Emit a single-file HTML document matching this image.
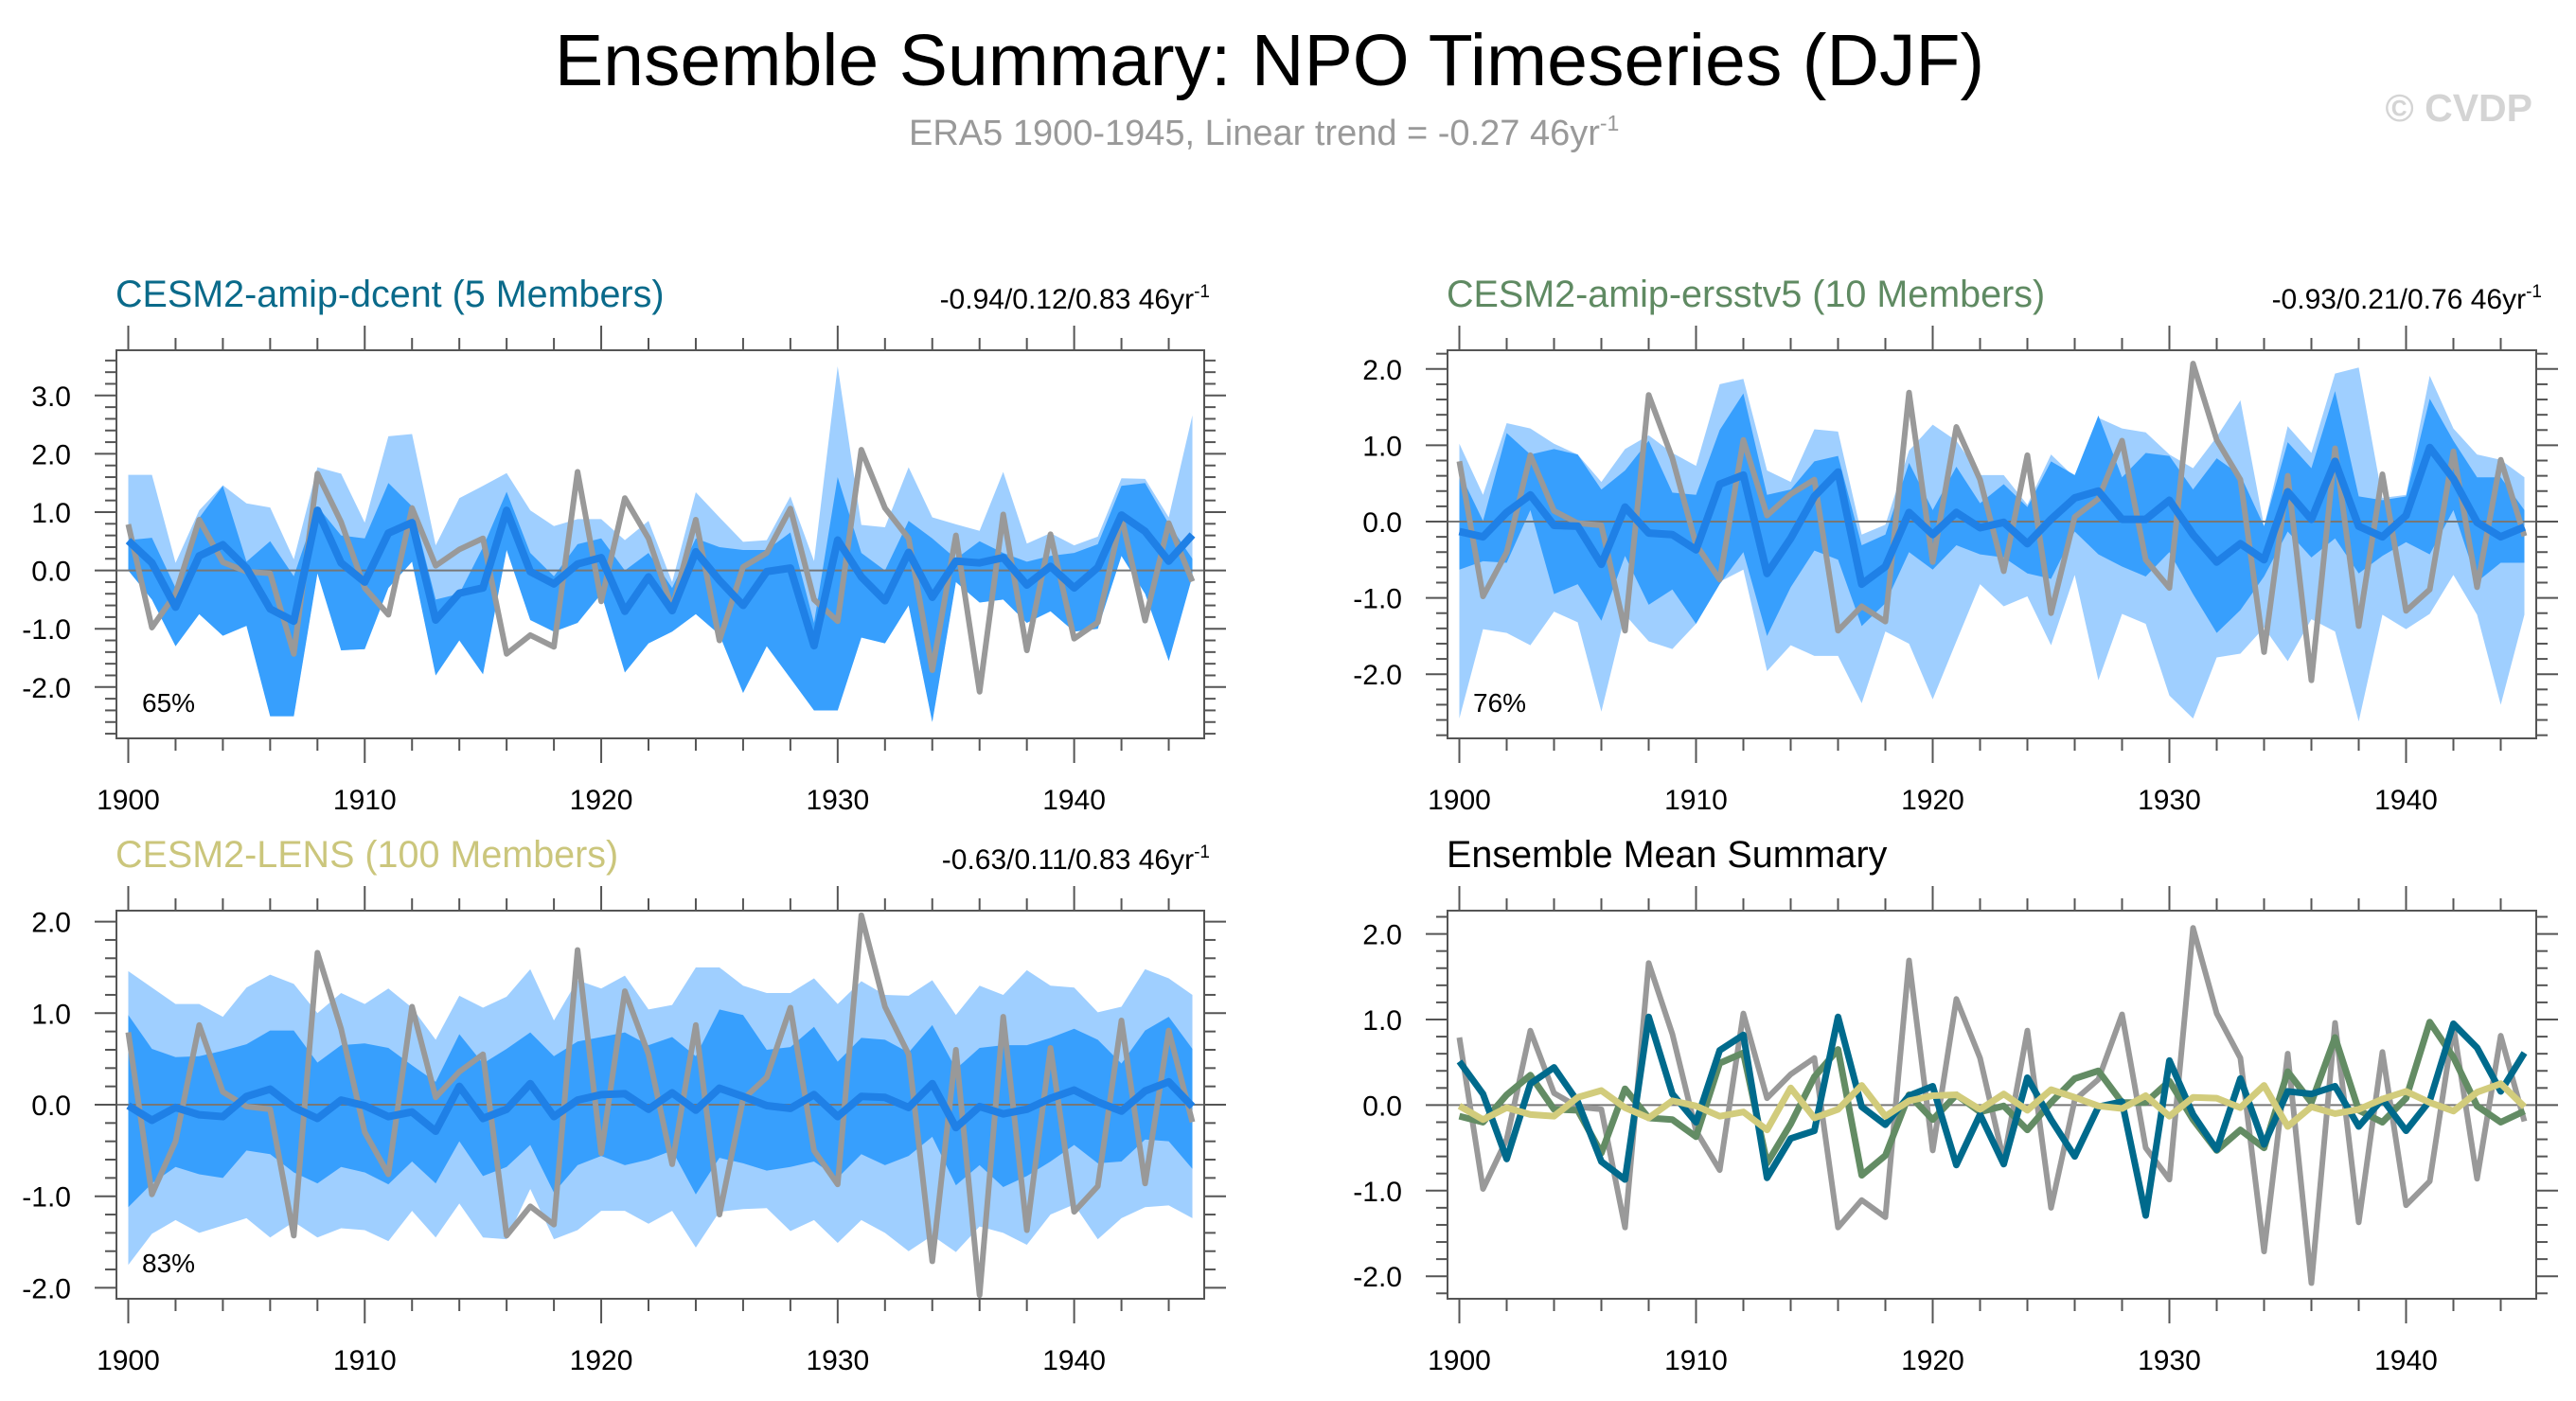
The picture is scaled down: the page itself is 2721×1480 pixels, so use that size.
<!DOCTYPE html>
<html><head><meta charset="utf-8"><style>
html,body{margin:0;padding:0;background:#fff;}
svg{display:block;font-family:"Liberation Sans",sans-serif;}
</style></head><body>
<svg id="chart" width="2721" height="1480" viewBox="0 0 2721 1480" xmlns="http://www.w3.org/2000/svg">
<text x="1341" y="90" font-size="77" text-anchor="middle" fill="#000">Ensemble Summary: NPO Timeseries (DJF)</text>
<text x="960" y="153" font-size="38" fill="#999">ERA5 1900-1945, Linear trend = -0.27 46yr<tspan dy="-15" font-size="23">-1</tspan></text>
<text x="2675" y="128" font-size="41" font-weight="bold" text-anchor="end" fill="#d4d4d4">© CVDP</text>
<g id="panels"></g>
</svg>
<script>
const years = []; for (let y = 1900; y <= 1945; y++) years.push(y);
const obsERA5 = [0.79,-0.98,-0.4,0.87,0.14,-0.02,-0.05,-1.43,1.66,0.83,-0.3,-0.76,1.07,0.08,0.36,0.55,-1.43,-1.11,-1.31,1.69,-0.53,1.24,0.55,-0.65,0.87,-1.2,0.06,0.3,1.06,-0.5,-0.87,2.07,1.07,0.55,-1.71,0.6,-2.08,0.96,-1.37,0.62,-1.17,-0.89,0.92,-0.86,0.81,-0.19];

const dcentMean = [0.51,0.13,-0.63,0.25,0.44,0.04,-0.66,-0.87,1.03,0.13,-0.2,0.64,0.82,-0.85,-0.39,-0.3,1.03,-0.02,-0.23,0.11,0.22,-0.7,-0.11,-0.69,0.32,-0.17,-0.6,-0.02,0.04,-1.29,0.52,-0.11,-0.52,0.31,-0.46,0.16,0.13,0.22,-0.25,0.07,-0.3,0.05,0.95,0.67,0.16,0.61];
const dcentLightHi = [1.64,1.64,0.13,1.03,1.46,1.15,1.08,0.19,1.77,1.66,0.82,2.3,2.34,0.43,1.24,1.45,1.67,1.03,0.76,0.88,0.88,0.52,0.85,-0.2,1.34,0.91,0.49,0.52,1.27,0.16,3.5,0.78,0.74,1.77,0.91,0.79,0.68,1.69,0.46,0.64,0.43,0.58,1.58,1.57,0.91,2.66];
const dcentDarkHi = [0.52,0.56,-0.3,0.9,1.45,0.15,0.5,-0.1,1.1,0.6,0.55,1.5,1.1,-0.5,-0.4,0.4,1.35,0.3,-0.1,0.45,0.55,0.0,0.3,-0.3,0.55,0.4,0.35,0.35,0.65,-0.9,1.6,0.3,0.0,0.85,0.55,0.2,0.5,0.3,0.15,0.25,0.3,0.45,1.45,1.5,0.8,0.2];
const dcentDarkLo = [0.0,-0.5,-1.3,-0.75,-1.12,-0.95,-2.5,-2.5,-0.05,-1.37,-1.35,-0.3,0.15,-1.8,-1.2,-1.78,0.35,-0.85,-1.05,-0.9,-0.4,-1.75,-1.25,-1.05,-0.75,-1.1,-2.1,-1.3,-1.85,-2.4,-2.4,-1.15,-1.25,-0.6,-2.6,-0.2,-0.55,-0.5,-0.9,-0.7,-1.05,-1.0,0.25,-0.4,-1.55,-0.1];
const dcentLightLo = [0.0,-0.5,-1.3,-0.75,-1.12,-0.95,-2.5,-2.5,-0.05,-1.37,-1.35,-0.3,0.15,-1.8,-1.2,-1.78,0.35,-0.85,-1.05,-0.9,-0.4,-1.75,-1.25,-1.05,-0.75,-1.1,-2.1,-1.3,-1.85,-2.4,-2.4,-1.15,-1.25,-0.6,-2.6,-0.2,-0.55,-0.5,-0.9,-0.7,-1.05,-1.0,0.25,-0.4,-1.55,-0.1];

const ersstMean = [-0.13,-0.2,0.12,0.35,-0.05,-0.06,-0.56,0.19,-0.15,-0.17,-0.37,0.49,0.61,-0.68,-0.22,0.33,0.65,-0.82,-0.59,0.12,-0.17,0.12,-0.08,-0.01,-0.29,0.03,0.31,0.4,0.03,0.03,0.28,-0.17,-0.53,-0.29,-0.5,0.39,0.03,0.79,-0.06,-0.2,0.08,0.97,0.56,-0.01,-0.2,-0.07];
const ersstLightHi = [1.02,0.35,1.29,1.22,1.02,0.88,0.52,0.95,1.13,0.9,0.73,1.8,1.87,0.67,0.52,1.21,1.18,-0.17,-0.04,0.93,1.27,1.06,0.61,0.61,0.22,0.88,0.58,1.36,1.22,1.17,0.88,0.7,1.11,1.59,-0.06,1.25,0.9,1.94,2.02,0.31,0.35,1.91,1.22,0.88,0.81,0.58];
const ersstDarkHi = [0.65,0.01,1.16,0.88,0.95,0.88,0.42,0.67,1.06,0.38,0.35,1.2,1.68,0.35,0.42,0.79,0.86,-0.31,-0.17,0.77,0.15,0.72,0.24,0.49,0.19,0.79,0.61,1.39,0.58,0.9,0.86,0.42,0.83,0.61,-0.06,1.04,0.7,1.71,0.33,0.28,0.33,1.61,1.06,0.58,0.58,0.15];
const ersstDarkLo = [-0.63,-0.52,-0.54,0.15,-0.95,-0.82,-1.3,-0.45,-1.09,-0.89,-1.34,-0.82,-0.4,-1.5,-0.86,-0.38,-0.5,-1.37,-1.07,-0.4,-0.63,-0.31,-0.43,-0.47,-0.68,-0.75,-0.13,-0.43,-0.59,-0.72,-0.4,-0.95,-1.46,-1.16,-0.72,-0.13,-0.47,-0.22,-0.68,-0.45,-0.27,-0.43,0.15,-0.79,-0.54,-0.54];
const ersstLightLo = [-2.58,-1.41,-1.46,-1.62,-1.18,-1.32,-2.49,-1.22,-1.57,-1.67,-1.34,-0.79,-0.63,-1.96,-1.62,-1.76,-1.76,-2.38,-1.44,-1.6,-2.33,-1.57,-0.82,-1.11,-0.98,-1.62,-0.7,-2.08,-1.21,-1.34,-2.28,-2.58,-1.78,-1.73,-1.39,-1.83,-1.28,-1.44,-2.62,-1.22,-1.41,-1.21,-0.7,-1.22,-2.4,-1.22];

const lensMean = [-0.01,-0.17,-0.03,-0.11,-0.13,0.09,0.17,-0.03,-0.15,0.05,-0.01,-0.13,-0.08,-0.29,0.2,-0.15,-0.05,0.23,-0.13,0.05,0.11,0.12,-0.05,0.13,-0.06,0.18,0.09,-0.01,-0.04,0.11,-0.13,0.09,0.08,-0.03,0.23,-0.25,-0.02,-0.1,-0.05,0.07,0.16,0.03,-0.07,0.15,0.25,-0.02];
const lensLightHi = [1.46,1.28,1.1,1.1,0.96,1.28,1.42,1.32,1.0,1.22,1.1,1.27,1.06,0.71,1.19,1.06,1.18,1.48,0.92,1.36,1.27,1.41,1.04,1.09,1.5,1.5,1.3,1.22,1.22,1.38,1.1,1.35,1.2,1.19,1.36,0.98,1.3,1.2,1.47,1.3,1.28,1.01,1.07,1.48,1.38,1.2];
const lensDarkHi = [0.98,0.61,0.52,0.53,0.59,0.66,0.81,0.81,0.46,0.65,0.67,0.62,0.43,0.25,0.77,0.45,0.61,0.79,0.53,0.69,0.74,0.79,0.65,0.74,0.53,1.04,0.98,0.6,0.63,0.85,0.47,0.73,0.71,0.57,0.87,0.39,0.62,0.65,0.65,0.73,0.83,0.71,0.45,0.81,0.96,0.61];
const lensDarkLo = [-1.12,-0.86,-0.68,-0.76,-0.8,-0.5,-0.54,-0.74,-0.86,-0.68,-0.74,-0.87,-0.62,-0.86,-0.4,-0.78,-0.68,-0.44,-0.96,-0.66,-0.56,-0.66,-0.6,-0.5,-0.98,-0.58,-0.64,-0.72,-0.68,-0.62,-0.8,-0.54,-0.66,-0.56,-0.35,-0.88,-0.66,-0.9,-0.78,-0.62,-0.44,-0.64,-0.62,-0.38,-0.4,-0.7];
const lensLightLo = [-1.75,-1.41,-1.26,-1.4,-1.32,-1.24,-1.45,-1.28,-1.45,-1.35,-1.37,-1.49,-1.16,-1.45,-1.08,-1.45,-1.47,-0.92,-1.47,-1.37,-1.16,-1.16,-1.3,-1.16,-1.56,-1.17,-1.14,-1.13,-1.38,-1.26,-1.51,-1.26,-1.4,-1.6,-1.43,-1.61,-1.33,-1.4,-1.53,-1.2,-1.09,-1.47,-1.24,-1.12,-1.1,-1.24];

const xTickLabels = ["1900","1910","1920","1930","1940"];
const yTickLabelsP1 = ["-2.0","-1.0","0.0","1.0","2.0","3.0"];
const yTickLabelsP2 = ["-2.0","-1.0","0.0","1.0","2.0"];

const NS = "http://www.w3.org/2000/svg";
const root = document.getElementById('panels');
function mk(tag, attrs, parent) {
  const e = document.createElementNS(NS, tag);
  for (const k in attrs) e.setAttribute(k, attrs[k]);
  (parent || root).appendChild(e);
  return e;
}
const LIGHT = "#9fcfff", DARK = "#379ffd", MEAN = "#1f80e6", OBS = "#999999";

function drawPanel(p) {
  const g = mk('g', {});
  
  
  const xs = v => p.x0 + (v - 1899.5) / 46 * (p.x1 - p.x0);
  const ys = v => p.yZero - v * p.unit;
  function band(hi, lo, color, nm) {
    let pts = years.map((yr, i) => xs(yr) + ',' + ys(hi[i]));
    pts = pts.concat(years.map((yr, i) => xs(yr) + ',' + ys(lo[i])).reverse());
    const b = mk('polygon', {points: pts.join(' '), fill: color, stroke: 'none'}, g);
    
    
  }
  if (p.lightHi) band(p.lightHi, p.lightLo, LIGHT, 'band-light');
  if (p.darkHi) band(p.darkHi, p.darkLo, DARK, 'band-dark');
  const z = mk('line', {x1: p.x0, x2: p.x1, y1: ys(0), y2: ys(0), stroke: '#777', 'stroke-width': 2}, g);
  
  
  function series(vals, color, w, nm) {
    const l = mk('polyline', {points: years.map((yr, i) => xs(yr) + ',' + ys(vals[i])).join(' '), fill: 'none', stroke: color, 'stroke-width': w, 'stroke-linejoin': 'round'}, g);
    
    
  }
  p.lines.forEach(s => series(s.vals, s.color, s.w, s.name));
  const fr = mk('rect', {x: p.x0, y: p.y0, width: p.x1 - p.x0, height: p.y1 - p.y0, fill: 'none', stroke: '#555', 'stroke-width': 2}, g);
  
  
  for (let yr = 1900; yr <= 1945; yr++) {
    if (yr % 2 && yr % 10) continue;
    const len = yr % 10 === 0 ? 26 : 13;
    const X = xs(yr);
    mk('line', {x1: X, x2: X, y1: p.y1, y2: p.y1 + len, stroke: '#555', 'stroke-width': 2}, g);
    mk('line', {x1: X, x2: X, y1: p.y0, y2: p.y0 - len, stroke: '#555', 'stroke-width': 2}, g);
  }
  xTickLabels.forEach((lab, i) => {
    const t = mk('text', {x: xs(1900 + i * 10), y: p.y1 + 75, 'font-size': 30, 'text-anchor': 'middle', fill: '#000'}, g);
    t.textContent = lab;
    
    
  });
  const vMin = (p.yZero - p.y1) / p.unit, vMax = (p.yZero - p.y0) / p.unit;
  for (let k = Math.ceil(vMin * 5); k <= Math.floor(vMax * 5); k++) {
    const Y = ys(k / 5);
    const len = k % 5 === 0 ? 23 : 12;
    mk('line', {x1: p.x0, x2: p.x0 - len, y1: Y, y2: Y, stroke: '#555', 'stroke-width': 2}, g);
    mk('line', {x1: p.x1, x2: p.x1 + len, y1: Y, y2: Y, stroke: '#555', 'stroke-width': 2}, g);
  }
  p.yLabels.forEach(lab => {
    const t = mk('text', {x: p.x0 - 48, y: ys(parseFloat(lab)) + 11, 'font-size': 30, 'text-anchor': 'end', fill: '#000'}, g);
    t.textContent = lab;
    
    
  });
  const tt = mk('text', {x: p.x0 - 1, y: p.y0 - 46, 'font-size': 39.5, fill: p.titleColor}, g);
  tt.textContent = p.title;
  
  
  if (p.trend) {
    const tr = mk('text', {x: p.x1 + 6, y: p.y0 - 44, 'font-size': 30, 'text-anchor': 'end', fill: '#000'}, g);
    tr.innerHTML = p.trend + ' 46yr<tspan dy="-12" font-size="19">-1</tspan>';
    
    
  }
  if (p.pct) {
    const pc = mk('text', {x: p.x0 + 27, y: p.y1 - 28, 'font-size': 28, fill: '#000'}, g);
    pc.textContent = p.pct;
    
    
  }
}

drawPanel({name:'panel-cesm2-amip-dcent', x0:123, x1:1272, y0:370, y1:780, yZero:602.6, unit:61.6,
  lightHi:dcentLightHi, lightLo:dcentLightLo, darkHi:dcentDarkHi, darkLo:dcentDarkLo,
  lines:[{vals:obsERA5,color:OBS,w:6,name:'obs-line'},{vals:dcentMean,color:MEAN,w:8,name:'ensemble-mean-line'}],
  yLabels:yTickLabelsP1, title:'CESM2-amip-dcent (5 Members)', titleColor:'#0a6a8a', trend:'-0.94/0.12/0.83', pct:'65%'});
drawPanel({name:'panel-cesm2-amip-ersstv5', x0:1529, x1:2679, y0:370, y1:780, yZero:551, unit:80.6,
  lightHi:ersstLightHi, lightLo:ersstLightLo, darkHi:ersstDarkHi, darkLo:ersstDarkLo,
  lines:[{vals:obsERA5,color:OBS,w:6,name:'obs-line'},{vals:ersstMean,color:MEAN,w:8,name:'ensemble-mean-line'}],
  yLabels:yTickLabelsP2, title:'CESM2-amip-ersstv5 (10 Members)', titleColor:'#5f8a62', trend:'-0.93/0.21/0.76', pct:'76%'});
drawPanel({name:'panel-cesm2-lens', x0:123, x1:1272, y0:962, y1:1372, yZero:1167, unit:96.7,
  lightHi:lensLightHi, lightLo:lensLightLo, darkHi:lensDarkHi, darkLo:lensDarkLo,
  lines:[{vals:obsERA5,color:OBS,w:6,name:'obs-line'},{vals:lensMean,color:MEAN,w:8,name:'ensemble-mean-line'}],
  yLabels:yTickLabelsP2, title:'CESM2-LENS (100 Members)', titleColor:'#cbc67c', trend:'-0.63/0.11/0.83', pct:'83%'});
drawPanel({name:'panel-ensemble-mean-summary', x0:1529, x1:2679, y0:962, y1:1372, yZero:1167.4, unit:90.4,
  lines:[{vals:obsERA5,color:OBS,w:6,name:'obs-line'},{vals:ersstMean,color:'#638c64',w:7,name:'ersstv5-mean-line'},
         {vals:dcentMean,color:'#006a8c',w:7,name:'dcent-mean-line'},{vals:lensMean,color:'#d2cc7c',w:7,name:'lens-mean-line'}],
  yLabels:yTickLabelsP2, title:'Ensemble Mean Summary', titleColor:'#000'});
</script>
</body></html>
